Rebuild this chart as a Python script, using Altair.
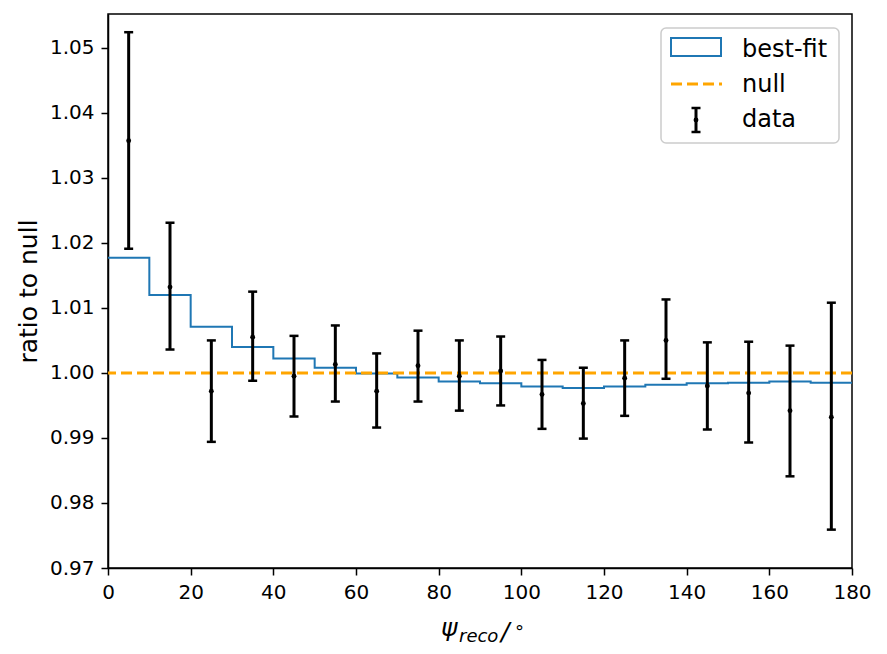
import altair as alt
import pandas as pd

# ---- data ----
bin_edges = list(range(0, 190, 10))
bin_centers = [5, 15, 25, 35, 45, 55, 65, 75, 85, 95, 105, 115, 125, 135, 145, 155, 165, 175]
bestfit = [1.0177, 1.0120, 1.0071, 1.0040, 1.0022, 1.0008, 0.9999, 0.9993, 0.9987,
           0.9984, 0.9979, 0.9977, 0.9979, 0.9982, 0.9984, 0.9985, 0.9987, 0.9985]
data_val = [1.0357, 1.0132, 0.9972, 1.0055, 0.9995, 1.0013, 0.9972, 1.0011, 0.9995,
            1.0003, 0.9967, 0.9953, 0.9992, 1.0050, 0.9980, 0.9969, 0.9942, 0.9932]
data_hi = [1.0524, 1.0231, 1.0050, 1.0125, 1.0057, 1.0073, 1.0030, 1.0065, 1.0050,
           1.0056, 1.0020, 1.0008, 1.0050, 1.0113, 1.0047, 1.0048, 1.0042, 1.0108]
data_lo = [1.0191, 1.0036, 0.9894, 0.9988, 0.9933, 0.9956, 0.9916, 0.9956, 0.9942,
           0.9950, 0.9914, 0.9899, 0.9934, 0.9991, 0.9913, 0.9893, 0.9841, 0.9759]
null_value = 1.0
x_ticks = [0, 20, 40, 60, 80, 100, 120, 140, 160, 180]
y_ticks = [0.97, 0.98, 0.99, 1.00, 1.01, 1.02, 1.03, 1.04, 1.05]
legend_labels = ["best-fit", "null", "data"]

BLUE = "#1f77b4"
ORANGE = "#ffa500"
FONT = "DejaVu Sans"

step_df = pd.DataFrame({"x": bin_edges, "y": bestfit + [bestfit[-1]]})
pts_df = pd.DataFrame({"x": bin_centers, "y": data_val, "hi": data_hi, "lo": data_lo})
one = pd.DataFrame({"a": [0]})

xscale = alt.Scale(domain=[0, 180], nice=False, zero=False)
yscale = alt.Scale(domain=[0.97, 1.0552], nice=False, zero=False)

xaxis = alt.Axis(values=x_ticks, format="d", title=None, labelFlush=False,
                 labelOverlap=False, grid=False, tickSize=7, tickWidth=1.5,
                 tickColor="black", domainColor="black", domainWidth=1.5,
                 labelFontSize=20, labelColor="black", labelPadding=7, labelFont=FONT)
yaxis = alt.Axis(values=y_ticks, format=".2f", title="ratio to null", labelFlush=False,
                 labelOverlap=False, grid=False, tickSize=7, tickWidth=1.5,
                 tickColor="black", domainColor="black", domainWidth=1.5,
                 labelFontSize=20, labelColor="black", labelPadding=7, labelFont=FONT,
                 titleFontSize=25, titleFont=FONT, titleFontWeight="normal",
                 titleColor="black", titlePadding=8)

step = alt.Chart(step_df).mark_line(interpolate="step-after", color=BLUE, strokeWidth=2).encode(
    x=alt.X("x:Q", scale=xscale, axis=xaxis),
    y=alt.Y("y:Q", scale=yscale, axis=yaxis),
)

null = alt.Chart(one).mark_rule(color=ORANGE, strokeWidth=3, strokeDash=[11, 5]).encode(
    y=alt.datum(null_value)
)

bars = alt.Chart(pts_df).mark_rule(color="black", strokeWidth=3).encode(
    x="x:Q", y="lo:Q", y2="hi:Q"
)
cap_hi = alt.Chart(pts_df).mark_tick(orient="horizontal", size=9, thickness=2.5, color="black", opacity=1).encode(
    x="x:Q", y="hi:Q"
)
cap_lo = alt.Chart(pts_df).mark_tick(orient="horizontal", size=9, thickness=2.5, color="black", opacity=1).encode(
    x="x:Q", y="lo:Q"
)
dots = alt.Chart(pts_df).mark_circle(size=24, color="black", opacity=1).encode(
    x="x:Q", y="y:Q"
)

# ---- x axis title: psi_reco / degree ----
t_psi = alt.Chart(one).mark_text(text="ψ", font=FONT, fontSize=25, fontStyle="italic",
                                 align="left", baseline="alphabetic", color="black").encode(
    x=alt.value(333), y=alt.value(622))
t_sub = alt.Chart(one).mark_text(text="reco", font=FONT, fontSize=18, fontStyle="italic",
                                 align="left", baseline="alphabetic", color="black").encode(
    x=alt.value(351), y=alt.value(628))
t_slash = alt.Chart(one).mark_text(text="/", font=FONT, fontSize=25, fontStyle="italic",
                                   align="left", baseline="alphabetic", color="black").encode(
    x=alt.value(393), y=alt.value(626))
t_deg = alt.Chart(one).mark_text(text="°", font=FONT, fontSize=18,
                                 align="left", baseline="alphabetic", color="black").encode(
    x=alt.value(407), y=alt.value(624))

# ---- legend ----
leg_frame = alt.Chart(one).mark_rect(fill="white", fillOpacity=0.8, stroke="#cccccc",
                                     strokeWidth=1.5, cornerRadius=5).encode(
    x=alt.value(553), x2=alt.value(731), y=alt.value(14), y2=alt.value(129))
leg_patch = alt.Chart(one).mark_rect(fill=None, fillOpacity=0, stroke=BLUE, strokeWidth=2).encode(
    x=alt.value(563), x2=alt.value(613), y=alt.value(24), y2=alt.value(42))
leg_dash = alt.Chart(one).mark_rule(color=ORANGE, strokeWidth=3, strokeDash=[11, 5]).encode(
    x=alt.value(563), x2=alt.value(614), y=alt.value(70))
leg_bar = alt.Chart(one).mark_rule(color="black", strokeWidth=3).encode(
    x=alt.value(588), y=alt.value(94), y2=alt.value(118))
leg_cap1 = alt.Chart(one).mark_rule(color="black", strokeWidth=2.5).encode(
    x=alt.value(583.5), x2=alt.value(592.5), y=alt.value(94))
leg_cap2 = alt.Chart(one).mark_rule(color="black", strokeWidth=2.5).encode(
    x=alt.value(583.5), x2=alt.value(592.5), y=alt.value(118))
leg_dot = alt.Chart(one).mark_circle(size=24, color="black", opacity=1).encode(
    x=alt.value(588), y=alt.value(106))
leg_texts = [
    alt.Chart(one).mark_text(text=lab, font=FONT, fontSize=24, align="left",
                             baseline="alphabetic", color="black").encode(
        x=alt.value(634), y=alt.value(yy))
    for lab, yy in zip(legend_labels, [43, 78, 113])
]

chart = alt.layer(
    step, null, bars, cap_hi, cap_lo, dots,
    t_psi, t_sub, t_slash, t_deg,
    leg_frame, leg_patch, leg_dash, leg_bar, leg_cap1, leg_cap2, leg_dot, *leg_texts
).properties(
    width=744, height=554,
    autosize=alt.AutoSizeParams(type="none"),
    padding={"left": 100, "top": 6, "right": 20, "bottom": 78},
    background="white",
).configure_view(
    stroke="black", strokeWidth=1.5
)

chart.save("out.html", embed_options={"renderer": "svg", "actions": False})
